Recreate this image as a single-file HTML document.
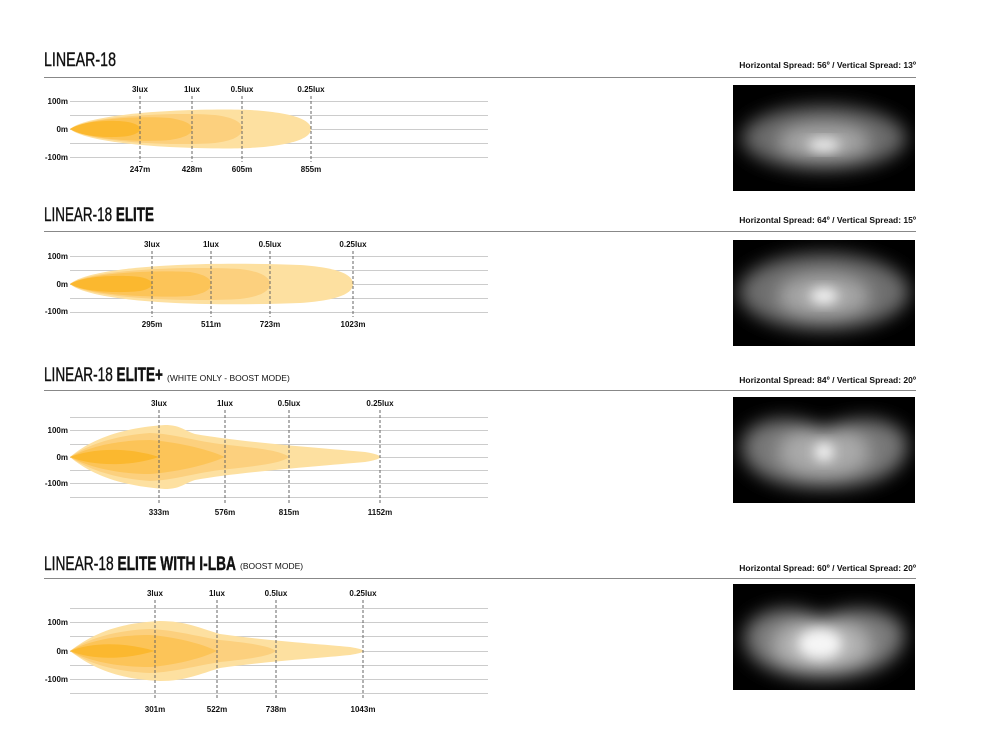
<!DOCTYPE html>
<html><head><meta charset="utf-8"><style>
body{margin:0;background:#fff;}
svg{display:block;font-family:"Liberation Sans",sans-serif;}
.t{font-size:19px;font-family:"Liberation Sans Narrow","Liberation Sans",sans-serif;fill:#111;stroke:#111;stroke-width:0.4;}
.b{font-weight:bold;}
.l{font-size:8px;font-weight:bold;fill:#111;}
.s{font-size:8.5px;font-weight:bold;fill:#111;}
.g{stroke:#ccc;stroke-width:1;}
.d{stroke:#666;stroke-width:1;stroke-dasharray:3,2;}
</style></head><body>
<svg width="1000" height="750" viewBox="0 0 1000 750">
<defs>
<filter id="bl" x="-30%" y="-50%" width="160%" height="200%"><feGaussianBlur stdDeviation="9"/></filter>
<filter id="bl2" x="-50%" y="-50%" width="200%" height="200%"><feGaussianBlur stdDeviation="6"/></filter>
<clipPath id="c1"><rect x="733" y="85" width="182" height="106"/></clipPath>
<clipPath id="c2"><rect x="733" y="240" width="182" height="106"/></clipPath>
<clipPath id="c3"><rect x="733" y="397" width="182" height="106"/></clipPath>
<clipPath id="c4"><rect x="733" y="584" width="182" height="106"/></clipPath>
</defs>

<!-- Section 1 -->
<text class="t" x="44" y="66" textLength="72" lengthAdjust="spacingAndGlyphs">LINEAR-18</text>
<text class="s" x="916" y="68" text-anchor="end">Horizontal Spread: 56º  /  Vertical Spread: 13º</text>
<line x1="44" y1="77.5" x2="916" y2="77.5" stroke="#888"/>
<g class="g"><line x1="70" y1="101.5" x2="488" y2="101.5"/><line x1="70" y1="115.5" x2="488" y2="115.5"/><line x1="70" y1="129.5" x2="488" y2="129.5"/><line x1="70" y1="143.5" x2="488" y2="143.5"/><line x1="70" y1="157.5" x2="488" y2="157.5"/></g>
<path d="M70,129 C90,112 200,108 250,110 C300,113 311,122 311,129 C311,136 300,145 250,148 C200,150 90,146 70,129Z" fill="#fde0a0"/>
<path d="M70,129 C90,115 180,112 215,115 C238,118 242,124 242,129 C242,134 238,140 215,143 C180,146 90,143 70,129Z" fill="#fcd07e"/>
<path d="M70,129 C90,117 150,116 170,118 C188,121 192,125 192,129 C192,133 188,137 170,140 C150,142 90,141 70,129Z" fill="#fcc458"/>
<path d="M70,129 C85,120 115,120 128,122 C138,124 140,127 140,129 C140,131 138,134 128,136 C115,138 85,138 70,129Z" fill="#fbb82f"/>
<g class="d"><line x1="140" y1="96" x2="140" y2="162"/><line x1="192" y1="96" x2="192" y2="162"/><line x1="242" y1="96" x2="242" y2="162"/><line x1="311" y1="96" x2="311" y2="162"/></g>
<g class="l" text-anchor="middle"><text x="140" y="92">3lux</text><text x="192" y="92">1lux</text><text x="242" y="92">0.5lux</text><text x="311" y="92">0.25lux</text>
<text x="140" y="172">247m</text><text x="192" y="172">428m</text><text x="242" y="172">605m</text><text x="311" y="172">855m</text></g>
<g class="l" text-anchor="end"><text x="68" y="104">100m</text><text x="68" y="132">0m</text><text x="68" y="160">-100m</text></g>
<rect x="733" y="85" width="182" height="106" fill="#000"/>
<g clip-path="url(#c1)">
<g filter="url(#bl)"><ellipse cx="824" cy="138" rx="82" ry="32" fill="#6a6a6a"/><ellipse cx="824" cy="142" rx="45" ry="16" fill="#a8a8a8"/></g>
<ellipse cx="824" cy="145" rx="16" ry="6" fill="#f4f4f4" filter="url(#bl2)"/>
</g>

<!-- Section 2 -->
<text class="t" x="44" y="221" textLength="110" lengthAdjust="spacingAndGlyphs">LINEAR-18 <tspan class="b">ELITE</tspan></text>
<text class="s" x="916" y="223" text-anchor="end">Horizontal Spread: 64º  /  Vertical Spread: 15º</text>
<line x1="44" y1="231.5" x2="916" y2="231.5" stroke="#888"/>
<g class="g"><line x1="70" y1="256.5" x2="488" y2="256.5"/><line x1="70" y1="270.5" x2="488" y2="270.5"/><line x1="70" y1="284.5" x2="488" y2="284.5"/><line x1="70" y1="298.5" x2="488" y2="298.5"/><line x1="70" y1="312.5" x2="488" y2="312.5"/></g>
<path d="M70,284 C90,266 200,261 300,265 C345,268 353,277 353,284 C353,291 345,300 300,303 C200,307 90,302 70,284Z" fill="#fde0a0"/>
<path d="M70,284 C90,269 190,266 240,269 C265,272 270,279 270,284 C270,289 265,296 240,299 C190,302 90,299 70,284Z" fill="#fcd07e"/>
<path d="M70,284 C90,272 160,270 190,272 C208,275 211,280 211,284 C211,288 208,293 190,296 C160,298 90,296 70,284Z" fill="#fcc458"/>
<path d="M70,284 C85,275 125,275 140,277 C150,279 152,282 152,284 C152,286 150,289 140,291 C125,293 85,293 70,284Z" fill="#fbb82f"/>
<g class="d"><line x1="152" y1="251" x2="152" y2="317"/><line x1="211" y1="251" x2="211" y2="317"/><line x1="270" y1="251" x2="270" y2="317"/><line x1="353" y1="251" x2="353" y2="317"/></g>
<g class="l" text-anchor="middle"><text x="152" y="247">3lux</text><text x="211" y="247">1lux</text><text x="270" y="247">0.5lux</text><text x="353" y="247">0.25lux</text>
<text x="152" y="327">295m</text><text x="211" y="327">511m</text><text x="270" y="327">723m</text><text x="353" y="327">1023m</text></g>
<g class="l" text-anchor="end"><text x="68" y="259">100m</text><text x="68" y="287">0m</text><text x="68" y="314">-100m</text></g>
<rect x="733" y="240" width="182" height="106" fill="#000"/>
<g clip-path="url(#c2)">
<g filter="url(#bl)"><ellipse cx="824" cy="292" rx="85" ry="38" fill="#6e6e6e"/><ellipse cx="824" cy="296" rx="45" ry="20" fill="#a8a8a8"/></g>
<ellipse cx="824" cy="296" rx="14" ry="8" fill="#f4f4f4" filter="url(#bl2)"/>
</g>

<!-- Section 3 -->
<text class="t" x="44" y="381" textLength="119" lengthAdjust="spacingAndGlyphs">LINEAR-18 <tspan class="b">ELITE+</tspan></text>
<text x="167" y="381" style="font-size:8.5px;fill:#111">(WHITE ONLY - BOOST MODE)</text>
<text class="s" x="916" y="383" text-anchor="end">Horizontal Spread: 84º  /  Vertical Spread: 20º</text>
<line x1="44" y1="390.5" x2="916" y2="390.5" stroke="#888"/>
<g class="g"><line x1="70" y1="417.5" x2="488" y2="417.5"/><line x1="70" y1="430.5" x2="488" y2="430.5"/><line x1="70" y1="444.5" x2="488" y2="444.5"/><line x1="70" y1="457.5" x2="488" y2="457.5"/><line x1="70" y1="470.5" x2="488" y2="470.5"/><line x1="70" y1="483.5" x2="488" y2="483.5"/><line x1="70" y1="497.5" x2="488" y2="497.5"/></g>
<path d="M70,457 C90,440 120,428 165,425 C180,425 183,430 195,434 C240,442 320,448 365,452 C378,454 380,456 380,457 C380,458 378,460 365,462 C320,466 240,472 195,480 C183,484 180,489 165,489 C120,486 90,474 70,457Z" fill="#fde0a0"/>
<path d="M70,457 C90,443 120,435 150,433 C175,434 190,440 220,444 C255,448 280,450 289,457 C280,464 255,466 220,470 C190,474 175,480 150,481 C120,479 90,471 70,457Z" fill="#fcd07e"/>
<path d="M70,457 C90,446 120,440 150,440 C175,442 205,448 225,457 C205,466 175,472 150,474 C120,474 90,468 70,457Z" fill="#fcc458"/>
<path d="M70,457 C90,449 125,446 159,457 C125,468 90,465 70,457Z" fill="#fbb82f"/>
<g class="d"><line x1="159" y1="410" x2="159" y2="503"/><line x1="225" y1="410" x2="225" y2="503"/><line x1="289" y1="410" x2="289" y2="503"/><line x1="380" y1="410" x2="380" y2="503"/></g>
<g class="l" text-anchor="middle"><text x="159" y="406">3lux</text><text x="225" y="406">1lux</text><text x="289" y="406">0.5lux</text><text x="380" y="406">0.25lux</text>
<text x="159" y="515">333m</text><text x="225" y="515">576m</text><text x="289" y="515">815m</text><text x="380" y="515">1152m</text></g>
<g class="l" text-anchor="end"><text x="68" y="433">100m</text><text x="68" y="460">0m</text><text x="68" y="486">-100m</text></g>
<rect x="733" y="397" width="182" height="106" fill="#000"/>
<g clip-path="url(#c3)">
<g filter="url(#bl)"><path d="M745,435 C760,415 800,415 824,430 C848,415 890,415 905,435 C915,460 890,488 824,488 C758,488 733,460 745,435Z" fill="#777"/><ellipse cx="824" cy="452" rx="45" ry="24" fill="#aaa"/></g>
<ellipse cx="824" cy="452" rx="10" ry="9" fill="#f4f4f4" filter="url(#bl2)"/>
</g>

<!-- Section 4 -->
<text class="t" x="44" y="570" textLength="192" lengthAdjust="spacingAndGlyphs">LINEAR-18 <tspan class="b">ELITE WITH I-LBA</tspan></text>
<text x="240" y="569" style="font-size:8.5px;fill:#111">(BOOST MODE)</text>
<text class="s" x="916" y="571" text-anchor="end">Horizontal Spread: 60º  /  Vertical Spread: 20º</text>
<line x1="44" y1="578.5" x2="916" y2="578.5" stroke="#888"/>
<g class="g"><line x1="70" y1="608.5" x2="488" y2="608.5"/><line x1="70" y1="622.5" x2="488" y2="622.5"/><line x1="70" y1="636.5" x2="488" y2="636.5"/><line x1="70" y1="651.5" x2="488" y2="651.5"/><line x1="70" y1="665.5" x2="488" y2="665.5"/><line x1="70" y1="679.5" x2="488" y2="679.5"/><line x1="70" y1="693.5" x2="488" y2="693.5"/></g>
<path d="M70,651 C95,632 120,623 160,621 C185,621 200,628 220,634 C270,641 320,644 350,647 C362,649 363,650 363,651 C363,652 362,653 350,655 C320,658 270,661 220,668 C200,674 185,681 160,681 C120,679 95,670 70,651Z" fill="#fde0a0"/>
<path d="M70,651 C90,637 120,630 150,629 C175,630 195,636 220,640 C250,643 270,646 276,651 C270,656 250,659 220,662 C195,666 175,672 150,673 C120,672 90,665 70,651Z" fill="#fcd07e"/>
<path d="M70,651 C90,640 120,635 150,635 C175,637 200,643 217,651 C200,659 175,665 150,667 C120,667 90,662 70,651Z" fill="#fcc458"/>
<path d="M70,651 C90,643 120,641 155,651 C120,661 90,659 70,651Z" fill="#fbb82f"/>
<g class="d"><line x1="155" y1="600" x2="155" y2="698"/><line x1="217" y1="600" x2="217" y2="698"/><line x1="276" y1="600" x2="276" y2="698"/><line x1="363" y1="600" x2="363" y2="698"/></g>
<g class="l" text-anchor="middle"><text x="155" y="596">3lux</text><text x="217" y="596">1lux</text><text x="276" y="596">0.5lux</text><text x="363" y="596">0.25lux</text>
<text x="155" y="712">301m</text><text x="217" y="712">522m</text><text x="276" y="712">738m</text><text x="363" y="712">1043m</text></g>
<g class="l" text-anchor="end"><text x="68" y="625">100m</text><text x="68" y="654">0m</text><text x="68" y="682">-100m</text></g>
<rect x="733" y="584" width="182" height="106" fill="#000"/>
<g clip-path="url(#c4)">
<g filter="url(#bl)"><path d="M748,625 C765,605 800,605 822,618 C845,605 885,605 902,625 C912,650 885,678 822,678 C760,678 735,650 748,625Z" fill="#7a7a7a"/><ellipse cx="822" cy="645" rx="48" ry="25" fill="#b5b5b5"/></g>
<ellipse cx="820" cy="644" rx="22" ry="15" fill="#f6f6f6" filter="url(#bl2)"/>
</g>
</svg>
</body></html>
